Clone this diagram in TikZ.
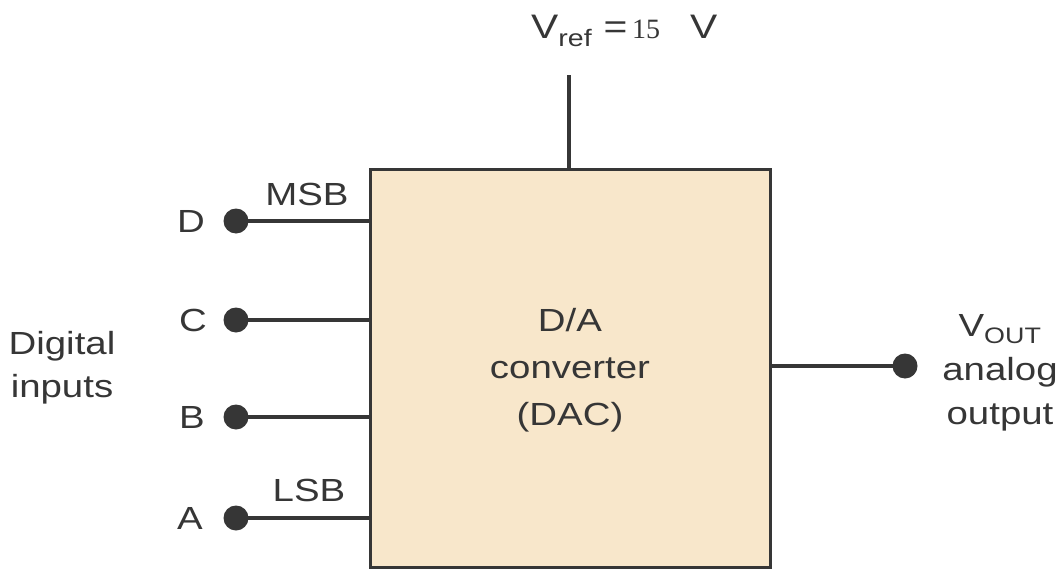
\documentclass[tikz,border=0pt]{standalone}
\usepackage{fontspec}
\setmainfont{Liberation Sans}[FakeStretch=1.2]
\newfontfamily\numfont{Liberation Serif}
\definecolor{ink}{HTML}{363636}
\definecolor{boxfill}{HTML}{F8E7CB}
\begin{document}
\begin{tikzpicture}[x=1pt,y=-1pt,
  wire/.style={draw=ink,line width=3.5pt},
  pin/.style={circle,fill=ink,inner sep=0pt,minimum size=25pt},
  lbl/.style={text=ink,inner sep=0pt,font=\fontsize{32}{38}\selectfont},
]
\useasboundingbox (0,0) rectangle (1063,570);
% main block
\node[draw=ink,line width=3pt,fill=boxfill,minimum width=400pt,minimum height=398pt,inner sep=0pt] (dac) at (570,368) {};
\node[lbl,align=center,font=\fontsize{32}{47}\selectfont] (dactxt) at (570,370) {D/A\\converter\\(DAC)};
% reference input
\coordinate (vtop) at (569,75);
\draw[wire] (vtop) -- (vtop |- dac.north);
\node[lbl,anchor=base west,font=\fontsize{34}{40}\selectfont] (vref) at (531,38) {V\textsubscript{ref} =};
\node[anchor=base west,text=ink,inner sep=0pt,font=\numfont\fontsize{28}{32}\selectfont] (vnum) at (632,38) {15};
\node[lbl,anchor=base west,font=\fontsize{34}{40}\selectfont] (vunit) at (690,38) {V};
% digital inputs
\node[pin] (pD) at (236,221) {};
\node[pin] (pC) at (236,320) {};
\node[pin] (pB) at (236,417) {};
\node[pin] (pA) at (236,518) {};
\draw[wire] (pD.center) -- (pD -| dac.west);
\draw[wire] (pC.center) -- (pC -| dac.west);
\draw[wire] (pB.center) -- (pB -| dac.west);
\draw[wire] (pA.center) -- (pA -| dac.west);
\node[lbl] (lD) at (191,221) {D};
\node[lbl] (lC) at (193,320) {C};
\node[lbl] (lB) at (192,417) {B};
\node[lbl] (lA) at (190,518) {A};
\node[lbl] (msb) at (307,194) {MSB};
\node[lbl] (lsb) at (309,490) {LSB};
\node[lbl,align=center,font=\fontsize{32}{43}\selectfont] (din) at (62,368) {Digital\\inputs};
% output
\node[pin] (pout) at (905,366) {};
\draw[wire] (dac.east |- pout) -- (pout.center);
\node[lbl,align=center,font=\fontsize{32}{44}\selectfont] (vout) at (1000,373) {V\textsubscript{OUT}\\analog\\output};
\end{tikzpicture}
\end{document}
